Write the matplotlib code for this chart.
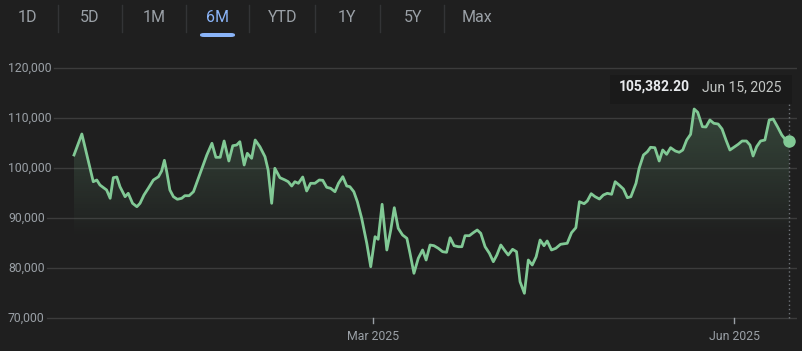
import numpy as np
import pandas as pd
import matplotlib

matplotlib.use("Agg")
import matplotlib.pyplot as plt
import matplotlib.dates as mdates
from matplotlib.lines import Line2D
from matplotlib.patches import Rectangle, FancyBboxPatch
from matplotlib.transforms import blended_transform_factory

plt.rcParams["font.family"] = ["Roboto", "DejaVu Sans"]

# --- data ------------------------------------------------------------------
start = pd.Timestamp("2024-12-15")
day_offset = [
    0.0, 2.0, 4.9, 5.8, 6.6, 7.5, 8.3, 9.2, 10.0, 10.9, 11.7, 13.0, 13.8, 14.9,
    16.0, 16.8, 17.8, 18.9, 20.2, 21.5, 22.3, 23.0, 23.6, 24.4, 25.3, 26.3,
    27.4, 28.2, 29.3, 30.4, 32.1, 33.8, 35.1, 36.1, 37.2, 38.2, 39.4, 40.4,
    41.4, 42.2, 43.3, 44.1, 45.2, 46.1, 47.3, 48.6, 49.4, 50.3, 51.1, 52.4,
    53.7, 54.5, 55.4, 56.2, 57.1, 58.2, 59.2, 60.2, 61.3, 62.4, 63.3, 64.3,
    65.3, 66.4, 67.3, 68.4, 69.4, 70.2, 71.2, 72.1, 73.2, 74.5, 75.5, 76.6,
    77.4, 78.4, 79.6, 80.6, 81.5, 82.5, 83.6, 84.7, 85.5, 86.5, 87.6, 88.7,
    89.6, 90.6, 91.6, 92.7, 93.8, 94.8, 95.7, 96.7, 97.8, 98.7, 99.5, 100.6,
    101.6, 102.6, 103.5, 104.6, 105.7, 106.7, 107.6, 108.6, 109.7, 110.5,
    111.6, 112.6, 113.5, 114.6, 115.6, 116.6, 117.6, 118.6, 119.6, 120.4,
    121.5, 122.6, 123.8, 125.5, 126.6, 127.7, 128.6, 129.8, 130.6, 131.6,
    132.6, 133.7, 134.7, 135.7, 136.8, 137.7, 138.7, 139.8, 140.8, 141.7,
    143.0, 143.8, 144.9, 145.9, 146.7, 147.8, 148.9, 149.8, 150.8, 151.8,
    153.0, 154.0, 154.9, 155.9, 156.9, 157.8, 158.7, 159.9, 160.8, 161.8,
    162.8, 163.9, 164.9, 165.9, 166.9, 167.9, 169.0, 170.0, 171.1, 172.0,
    172.8, 173.7, 174.7, 175.8, 176.9, 177.9, 179.0, 180.1, 181.1, 182.0,
]
price = [
    102600, 106800, 97260, 97600, 96600, 96060, 95600, 93940, 98060, 98200,
    96260, 94260, 94940, 92940, 92260, 92940, 94600, 95940, 97600, 98260,
    99400, 101540, 99260, 95600, 94260, 93740, 93940, 94460, 94460, 95260,
    98940, 102600, 104940, 102140, 102140, 105400, 101400, 104460, 104600,
    105260, 100600, 102940, 101940, 105600, 104260, 102260, 99600, 92940,
    99940, 98060, 97600, 97260, 96400, 97260, 96940, 98200, 95400, 96940,
    96940, 97600, 97540, 96140, 95940, 95260, 96940, 98260, 96400, 96260,
    95260, 93260, 89940, 84940, 80260, 86260, 85740, 92740, 83600, 87600,
    92060, 87940, 86600, 85940, 82940, 78940, 81940, 83600, 81600, 84600,
    84460, 83940, 83260, 83140, 86060, 84460, 84260, 84260, 86460, 86460,
    87060, 87600, 86940, 84260, 82940, 81260, 82600, 84600, 83400, 82600,
    83740, 83260, 77260, 74940, 81600, 80600, 82260, 85600, 84460, 85400,
    83600, 83940, 84740, 84940, 87060, 88060, 93260, 92860, 93400, 94860,
    94260, 93800, 94600, 94940, 94740, 97260, 96600, 95800, 94060, 94260,
    96940, 99940, 102600, 103260, 104140, 104060, 101400, 103600, 102740,
    104060, 103400, 103140, 103600, 105600, 106740, 111800, 111140, 108260,
    108200, 109600, 108940, 108800, 107800, 105600, 103600, 104140, 104740,
    105400, 105400, 104600, 102400, 104260, 105400, 105600, 109600, 109800,
    108260, 106600, 105600, 105382.20,
]
y_ticks = [70000, 80000, 90000, 100000, 110000, 120000]
x_tick_dates = ["2025-03-01", "2025-06-01"]
x_tick_labels = ["Mar 2025", "Jun 2025"]
tabs = ["1D", "5D", "1M", "6M", "YTD", "1Y", "5Y", "Max"]
active_tab = "6M"
last_label = "105,382.20"
last_date_label = "Jun 15, 2025"

# --- colours ---------------------------------------------------------------
BG = "#1f1f1f"
GRID = "#3c3c3c"
MUTED = "#9aa0a6"
GREEN = "#81c995"
BLUE = "#8ab4f8"

W, H = 802, 351
fig = plt.figure(figsize=(W / 100, H / 100), dpi=100, facecolor=BG)


def fx(px):
    return px / W


def fy(py):
    return 1 - py / H


# plot area: pixels x 0..797, y 60..320 (from the top)
ax = fig.add_axes([0, fy(320), fx(797), (320 - 60) / H])
ax.set_facecolor("none")
for s in ax.spines.values():
    s.set_visible(False)
ax.set_xticks([])
ax.set_yticks([])

dates = start + pd.to_timedelta(day_offset, unit="D")
ax.set_xlim(start + pd.Timedelta(days=-74 / 3.93),
            start + pd.Timedelta(days=(797 - 74) / 3.93))
ax.set_ylim(69600, 121600)

# y labels left-aligned, gridlines starting right after the label text
tr = blended_transform_factory(ax.transAxes, ax.transData)
renderer = fig.canvas.get_renderer()
for v in y_ticks:
    t = ax.text(8 / 797, v, f"{v:,}", transform=tr, ha="left",
                va="center", color=MUTED, fontsize=8.8)
    bb = t.get_window_extent(renderer)
    ax.axhline(v, xmin=(bb.x1 + 2) / 797, xmax=1, color=GRID, lw=1, zorder=1)

# gradient fill under the line
ymin_fill = 69600
poly = ax.fill_between(dates, price, ymin_fill, color="none", lw=0)
grad = np.zeros((256, 1, 4))
grad[..., :3] = matplotlib.colors.to_rgb(GREEN)
alpha = np.clip((np.linspace(ymin_fill, 121600, 256) - 86000) / (112000 - 86000), 0, 1)
grad[:, 0, 3] = alpha * 0.24
x0, x1 = mdates.date2num(dates[0]), mdates.date2num(dates[-1])
im = ax.imshow(grad, extent=[x0, x1, ymin_fill, 121600], origin="lower",
               aspect="auto", zorder=2, interpolation="bilinear")
im.set_clip_path(poly.get_paths()[0], transform=ax.transData)

ax.plot(dates, price, color=GREEN, lw=2, zorder=4, solid_joinstyle="round")
ax.plot(dates[-1], price[-1], "o", color=GREEN, ms=9, mec="none", zorder=5)

# x ticks
for d, lab in zip(x_tick_dates, x_tick_labels):
    d = pd.Timestamp(d)
    ax.plot([d, d], [70000, 70000 - 5 * 200], color=MUTED, lw=1, clip_on=False, zorder=3)
    ax.text(d, 70000 - 18 * 200, lab, ha="center", va="center", color=MUTED,
            fontsize=8.8, clip_on=False)

# dotted hover line + tooltip
ax.plot([dates[-1], dates[-1]], [70000, 120000 - (104 - 68) * 200], color="#6f7378",
        lw=1, ls=(0, (1, 2)), zorder=3)
fig.add_artist(Rectangle((fx(610), fy(104)), fx(792) - fx(610), fy(75) - fy(104),
                         transform=fig.transFigure, color="#1a1a1a", lw=0))
fig.text(fx(619), fy(87), last_label, ha="left", va="center", color="#e8eaed",
         fontsize=10, fontweight="bold")
fig.text(fx(781), fy(87), last_date_label, ha="right", va="center", color="#c4c7c5",
         fontsize=10)

# range tabs
tab_x = [27, 90, 154, 217, 283, 347, 413, 477]
for x, lab in zip(tab_x, tabs):
    fig.text(fx(x), fy(18), lab, ha="center", va="center", fontsize=11.5,
             color=BLUE if lab == active_tab else MUTED)
for x in [58, 122, 186, 249, 315, 380, 444]:
    fig.add_artist(Line2D([fx(x), fx(x)], [fy(5), fy(32)], color="#333436", lw=1))
fig.add_artist(FancyBboxPatch((fx(200), fy(37)), fx(235) - fx(200), fy(33) - fy(37),
                              boxstyle="round,pad=0,rounding_size=0.005",
                              transform=fig.transFigure, color=BLUE, lw=0))

fig.savefig("out.png", dpi=100, facecolor=BG)
